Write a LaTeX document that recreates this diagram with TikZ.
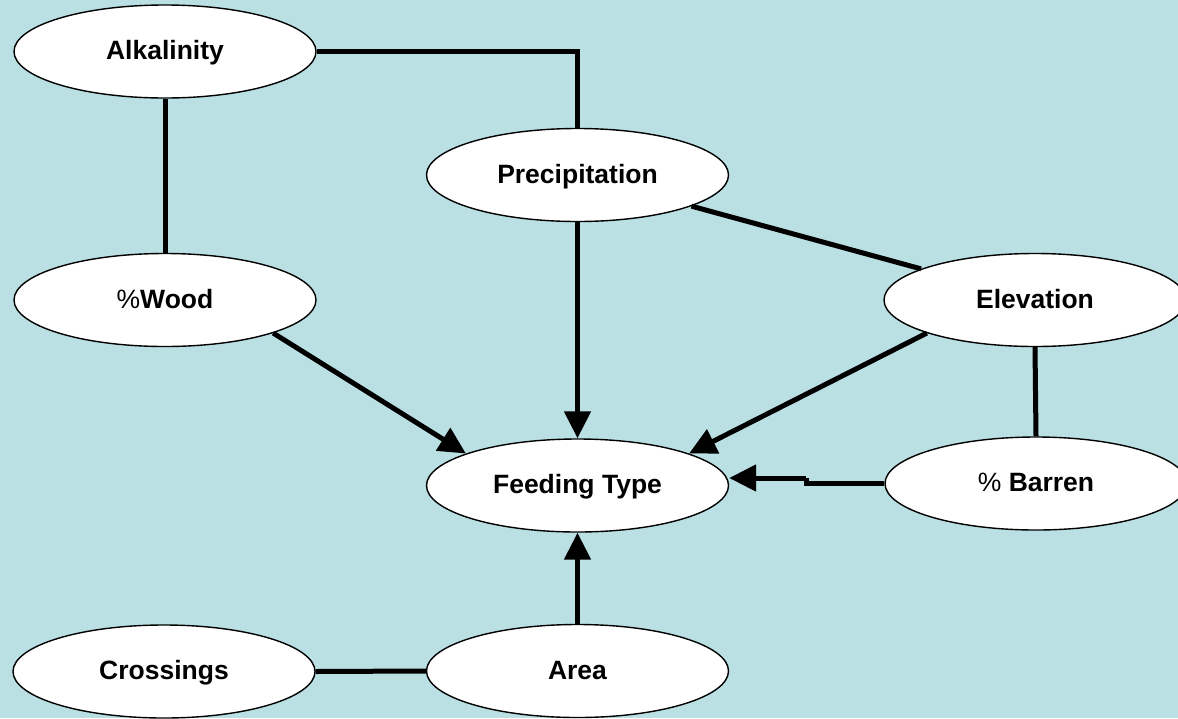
\documentclass[tikz,border=0pt]{standalone}
\usepackage{fontspec}
\setmainfont{Liberation Sans}
\usetikzlibrary{arrows.meta,shapes.geometric}
\definecolor{bgblue}{RGB}{186,224,227}
\tikzset{
  var/.style={ellipse, draw=black, line width=1.4pt, fill=white,
    minimum width=302pt, minimum height=93pt, inner sep=0pt,
    font=\fontsize{26.5}{31}\selectfont\bfseries,
    text height=20pt, text depth=4pt},
  link/.style={line width=5pt, draw=black},
  arr/.style={link, -{Triangle[length=27pt,width=26pt]}}
}
\begin{document}
\begin{tikzpicture}[x=1pt,y=-1pt]
\useasboundingbox (0,0) rectangle (1178,718);
\clip (0,0) rectangle (1178,718);
\fill[bgblue] (0,0) rectangle (1178,718);

\node[var] (alk)    at (165,51.5)   {Alkalinity};
\node[var] (wood)   at (165,300)    {{\mdseries\%}Wood};
\node[var] (prec)   at (577.5,175)  {Precipitation};
\node[var] (elev)   at (1035,300)   {Elevation};
\node[var] (feed)   at (577.5,485.5){Feeding Type};
\node[var] (barren) at (1036,483.5) {{\mdseries\%} Barren};
\node[var] (cross)  at (164,671.5)  {Crossings};
\node[var] (area)   at (577.5,671)  {Area};

\draw[link] (alk.east) -| (prec.north);
\draw[link] (alk.south) -- (wood.north);
\draw[arr]  (prec.south) -- (feed.north);
\draw[link] (prec) -- (elev);
\draw[arr]  (elev.197) -- (feed.16);
\draw[arr]  (wood.343) -- (feed.164);
\draw[link] (elev.south) -- (barren.north);
\coordinate (s1) at (806,483.5);
\coordinate (s2) at (806,478);
\draw[link] (barren.west) -- (s1) -- (s2);
\draw[arr]  (s2) -- (feed.east |- s2);
\draw[arr]  (area.north) -- (feed.south);
\draw[link] (cross.east) -- (area.west);
\end{tikzpicture}
\end{document}
